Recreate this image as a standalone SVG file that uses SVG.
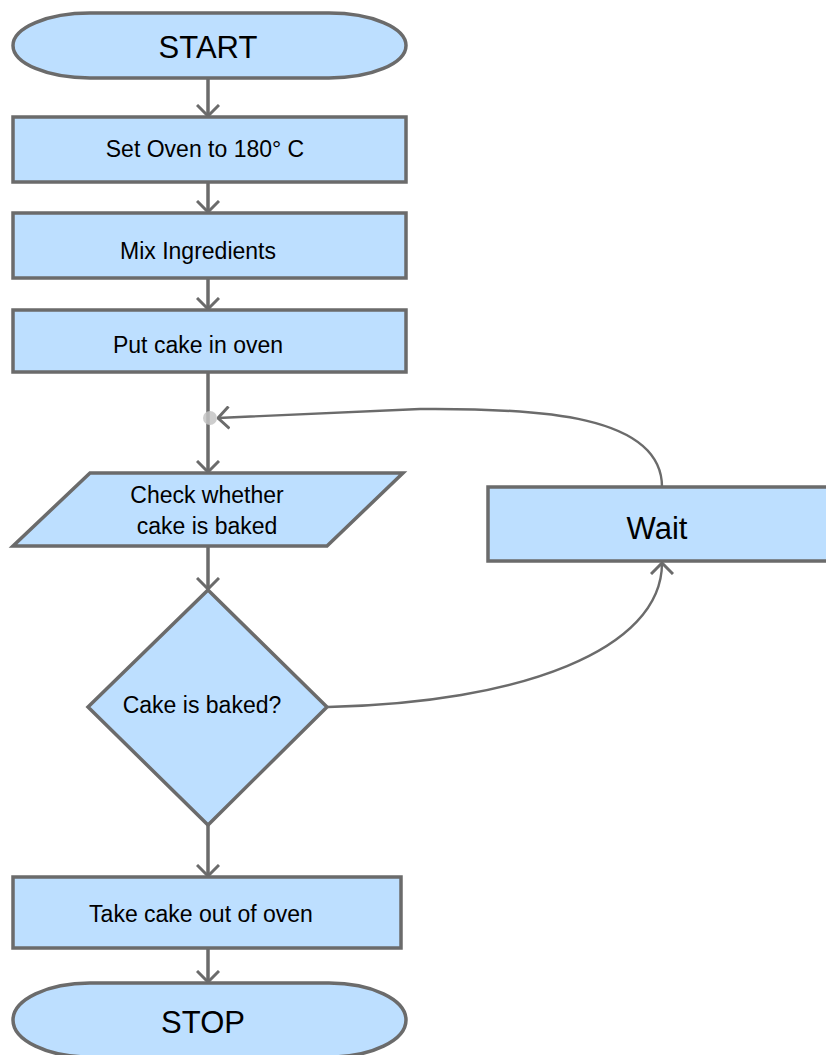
<svg xmlns="http://www.w3.org/2000/svg" width="826" height="1055" viewBox="0 0 826 1055">
  <style>
    .shape { fill: #bddfff; stroke: #6b6b6b; stroke-width: 3.5; }
    .edge { fill: none; stroke: #6b6b6b; stroke-width: 3.5; }
    .curve { fill: none; stroke: #6b6b6b; stroke-width: 2.4; }
    .lbl { font-family: "Liberation Sans", Arial, sans-serif; fill: #000; text-anchor: middle; }
    .big { font-size: 31px; }
    .small { font-size: 23px; }
  </style>
  <defs>
    <marker id="arrow" viewBox="0 0 13 24" refX="12" refY="12" markerWidth="13" markerHeight="24" markerUnits="userSpaceOnUse" orient="auto">
      <path d="M1,1 L12,12 L1,23" fill="none" stroke="#6b6b6b" stroke-width="3"/>
    </marker>
  </defs>

  <rect width="826" height="1055" fill="#ffffff"/>

  <!-- connectors -->
  <g id="connectors">
    <line class="edge" x1="208" y1="78" x2="208" y2="116" marker-end="url(#arrow)"/>
    <line class="edge" x1="208" y1="182" x2="208" y2="212" marker-end="url(#arrow)"/>
    <line class="edge" x1="208" y1="278" x2="208" y2="309" marker-end="url(#arrow)"/>
    <line class="edge" x1="208" y1="372" x2="208" y2="472" marker-end="url(#arrow)"/>
    <line class="edge" x1="208" y1="546" x2="208" y2="589" marker-end="url(#arrow)"/>
    <line class="edge" x1="208" y1="825" x2="208" y2="876" marker-end="url(#arrow)"/>
    <line class="edge" x1="208" y1="948" x2="208" y2="982" marker-end="url(#arrow)"/>
    <!-- Wait back to the check -->
    <path class="curve" d="M662,487 C662,415 540,408 420,409 L218,418" marker-end="url(#arrow)"/>
    <!-- decision to Wait -->
    <path class="curve" d="M328,707 C520,703 662,650 662,563" marker-end="url(#arrow)"/>
    <circle cx="210" cy="418" r="7" fill="#c4c4c4" opacity="0.85"/>
  </g>

  <g id="start">
    <path class="shape" d="M90,13 H329 A77,32.5 0 0 1 329,78 H90 A77,32.5 0 0 1 90,13 Z"/>
    <text class="lbl big" x="208" y="58">START</text>
  </g>

  <g id="set-oven">
    <rect class="shape" x="13" y="117" width="393" height="65"/>
    <text class="lbl small" x="205" y="157">Set Oven to 180° C</text>
  </g>

  <g id="mix">
    <rect class="shape" x="13" y="213" width="393" height="65"/>
    <text class="lbl small" x="198" y="259">Mix Ingredients</text>
  </g>

  <g id="put-in-oven">
    <rect class="shape" x="13" y="310" width="393" height="62"/>
    <text class="lbl small" x="198" y="353">Put cake in oven</text>
  </g>

  <g id="check">
    <polygon class="shape" points="90,473 403,473 327,546 13,546"/>
    <text class="lbl small" x="207" y="503">Check whether</text>
    <text class="lbl small" x="207" y="534">cake is baked</text>
  </g>

  <g id="decision">
    <polygon class="shape" points="208,590 327,707 208,825 88,707"/>
    <text class="lbl small" x="202" y="713">Cake is baked?</text>
  </g>

  <g id="wait">
    <rect class="shape" x="488" y="487" width="345" height="74"/>
    <text class="lbl big" x="657" y="539">Wait</text>
  </g>

  <g id="take-out">
    <rect class="shape" x="13" y="877" width="388" height="71"/>
    <text class="lbl small" x="201" y="922">Take cake out of oven</text>
  </g>

  <g id="stop">
    <path class="shape" d="M90,983 H329 A77,37 0 0 1 329,1057 H90 A77,37 0 0 1 90,983 Z"/>
    <text class="lbl big" x="203" y="1033">STOP</text>
  </g>
</svg>
